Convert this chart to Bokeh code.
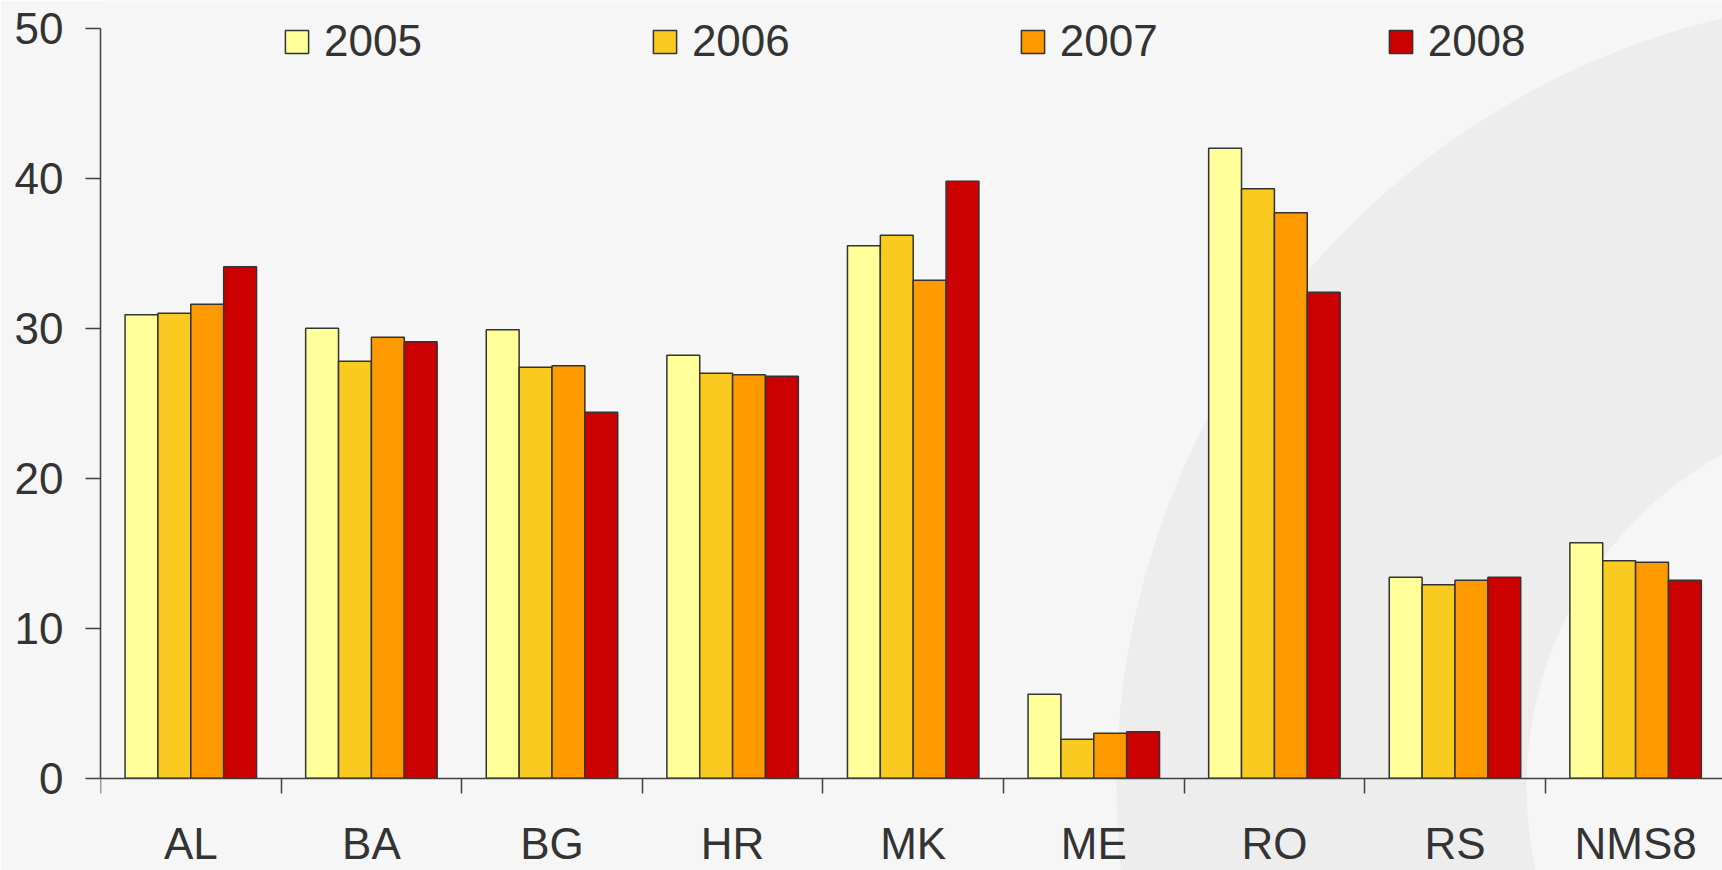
from bokeh.plotting import figure
from bokeh.models import ColumnDataSource, FixedTicker, Legend, LegendItem, Range1d
from bokeh.embed import file_html
from bokeh.resources import INLINE

countries = ["AL", "BA", "BG", "HR", "MK", "ME", "RO", "RS", "NMS8"]
years = ["2005", "2006", "2007", "2008"]
v2005 = [30.9, 30.0, 29.9, 28.2, 35.5, 5.6, 42.0, 13.4, 15.7]
v2006 = [31.0, 27.8, 27.4, 27.0, 36.2, 2.6, 39.3, 12.9, 14.5]
v2007 = [31.6, 29.4, 27.5, 26.9, 33.2, 3.0, 37.7, 13.2, 14.4]
v2008 = [34.1, 29.1, 24.4, 26.8, 39.8, 3.1, 32.4, 13.4, 13.2]
series = [v2005, v2006, v2007, v2008]
y_ticks = [0, 10, 20, 30, 40, 50]
colors = ["#ffff99", "#f9cb20", "#ff9900", "#cc0000"]

FONT = "Liberation Sans"
TXT = "#333333"
W, H = 1722, 870
LEFT = 100
PX_PER_CAT = 180.6
PX_PER_UNIT = 15.0
ZERO_Y = 777.7
BAR_W = 0.182

p = figure(width=W, height=H, output_backend="svg", toolbar_location=None,
           x_range=Range1d(0, (W - LEFT) / PX_PER_CAT),
           y_range=Range1d(-(H - ZERO_Y) / PX_PER_UNIT, ZERO_Y / PX_PER_UNIT),
           min_border_left=LEFT, min_border_right=0, min_border_top=0, min_border_bottom=0)
p.background_fill_color = "#f6f6f6"
p.border_fill_color = "#f6f6f6"
p.outline_line_color = None
p.xgrid.visible = False
p.ygrid.visible = False

# decorative background ring
p.annulus(x=[10.0], y=[-0.55], inner_radius=380, outer_radius=790,
          inner_radius_units="screen", outer_radius_units="screen",
          fill_color="#ededed", line_color=None)

items = []
for j, (yr, vals, col) in enumerate(zip(years, series, colors)):
    xs = [i + 0.5 + (j - 1.5) * BAR_W for i in range(len(countries))]
    src = ColumnDataSource(dict(x=xs, top=vals))
    r = p.vbar(x="x", top="top", width=BAR_W, bottom=0, source=src,
               fill_color=col, line_color="#333333", line_width=1.5)
    items.append(LegendItem(label=yr, renderers=[r]))

# y axis
ya = p.yaxis[0]
ya.ticker = FixedTicker(ticks=y_ticks)
ya.bounds = (0, 50)
ya.major_tick_out = 15
ya.major_tick_in = 0
ya.minor_tick_line_color = None
ya.axis_line_color = "#404040"
ya.axis_line_width = 1.5
ya.major_tick_line_color = "#404040"
ya.major_tick_line_width = 1.5
ya.major_label_standoff = 22
ya.major_label_text_font = FONT
ya.major_label_text_font_size = "44px"
ya.major_label_text_color = TXT

# x axis
xa = p.xaxis[0]
xa.fixed_location = 0
centers = [i + 0.5 for i in range(len(countries))]
xa.ticker = FixedTicker(ticks=centers, minor_ticks=list(range(len(countries) + 1)))
xa.major_label_overrides = {c: n for c, n in zip(centers, countries)}
xa.major_tick_line_color = None
xa.major_tick_out = 15
xa.major_tick_in = 0
xa.minor_tick_out = 15
xa.minor_tick_in = 0
xa.minor_tick_line_color = "#404040"
xa.minor_tick_line_width = 1.5
xa.axis_line_color = "#404040"
xa.axis_line_width = 1.5
xa.major_label_standoff = 26
xa.major_label_text_font = FONT
xa.major_label_text_font_size = "44px"
xa.major_label_text_color = TXT

legend = Legend(items=items, orientation="horizontal", location=(182, 804),
                glyph_width=29, glyph_height=29, label_standoff=13, spacing=228,
                padding=0, margin=0, border_line_color=None, background_fill_alpha=0,
                label_text_font=FONT, label_text_font_size="44px", label_text_color=TXT)
p.add_layout(legend)

open("out.html", "w").write(file_html(p, INLINE))
